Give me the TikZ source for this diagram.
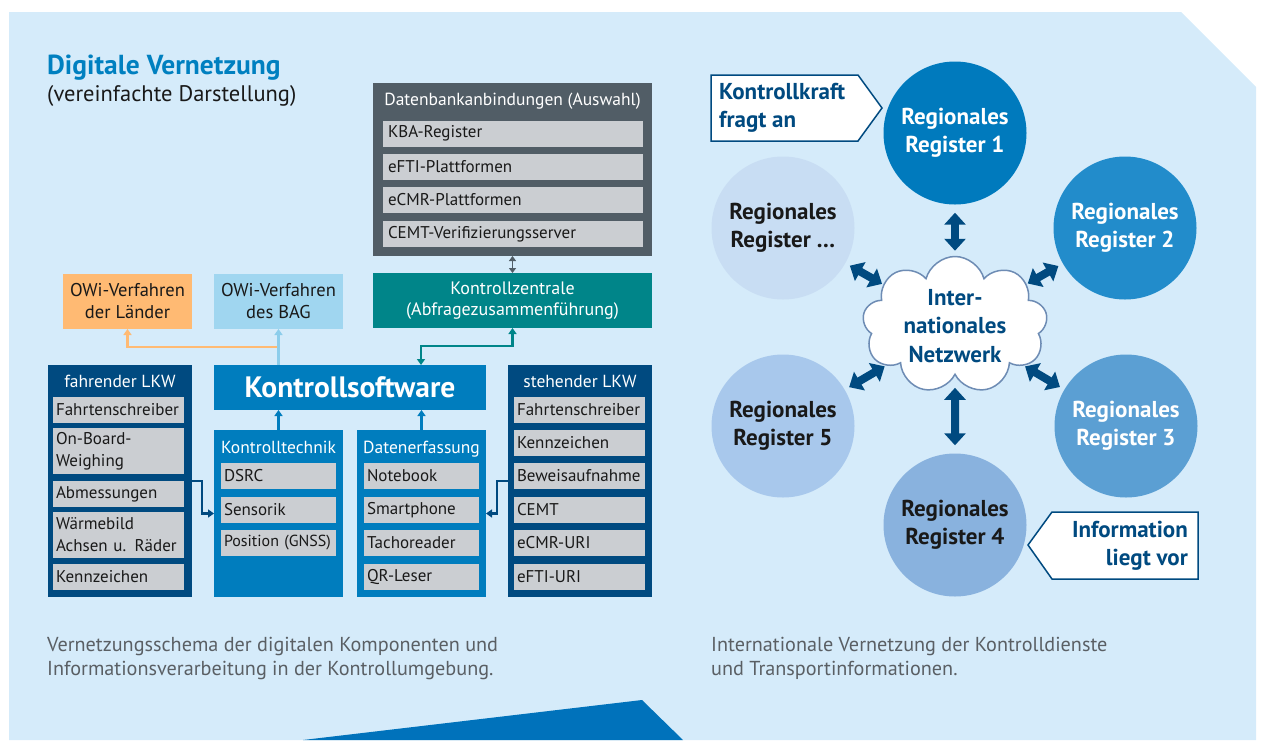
\documentclass[tikz,border=0pt]{standalone}
\usepackage{fontspec}
\setmainfont{PT Sans}
\usetikzlibrary{arrows.meta,shapes.symbols,calc}
\definecolor{bg}{RGB}{213,235,250}
\definecolor{navy}{RGB}{0,74,128}
\definecolor{kblue}{RGB}{0,125,190}
\definecolor{teal}{RGB}{0,133,137}
\definecolor{dbgray}{RGB}{81,93,102}
\definecolor{itemgray}{RGB}{203,206,210}
\definecolor{owiorange}{RGB}{255,186,115}
\definecolor{owiblue}{RGB}{160,214,240}
\definecolor{lineblue}{RGB}{140,205,235}
\definecolor{titleblue}{RGB}{0,128,192}
\definecolor{txt}{RGB}{25,25,25}
\definecolor{capgray}{RGB}{90,95,100}
\definecolor{tri}{RGB}{0,114,187}
\definecolor{rA}{RGB}{0,122,189}
\definecolor{rB}{RGB}{34,140,203}
\definecolor{rC}{RGB}{91,159,211}
\definecolor{rD}{RGB}{137,178,222}
\definecolor{rE}{RGB}{168,200,236}
\definecolor{rF}{RGB}{200,221,243}
\definecolor{cloudb}{RGB}{110,140,180}
\newcommand\itemfont{\fontsize{17}{22}\selectfont}
\newcommand\regfont{\fontsize{23}{28.5}\selectfont\bfseries}
\begin{document}
\begin{tikzpicture}[x=1pt,y={(0,-1pt)},
  box/.style={inner sep=0pt, outer sep=0pt},
  item/.style={fill=itemgray, inner xsep=3pt, inner ysep=0pt, outer sep=0pt, minimum height=26pt, align=left, font=\itemfont, text=txt},
  wideitem/.style={minimum width=131pt, text width=125pt},
  kitem/.style={minimum width=115pt, text width=109pt},
  ditem/.style={minimum width=260pt, text width=250pt, inner xsep=5pt},
  btitle/.style={text=white, font=\fontsize{17.5}{22}\selectfont, inner sep=0pt},
  conn/.style={line width=2.2pt, -{Triangle[width=8pt,length=6pt]}},
  block/.style={navy, line width=8pt, {Triangle[width=21pt,length=12pt]}-{Triangle[width=21pt,length=12pt]}},
  reg/.style={circle, minimum size=143pt, inner sep=0pt, align=center, font=\regfont},
  captxt/.style={text=capgray, font=\fontsize{20.2}{24}\selectfont, inner sep=0pt, anchor=base west}
]
\useasboundingbox (0,0) rectangle (1262,740);
\fill[bg] (9,12) -- (1181,12) -- (1256,87) -- (1256,740) -- (9,740) -- cycle;
\fill[tri] (303,740) -- (642,700) -- (683,740) -- cycle;

% title
\node[anchor=base west, inner sep=0pt, text=titleblue, font=\fontsize{27.5}{30}\selectfont\bfseries] (title) at (47,74) {Digitale Vernetzung};
\node[anchor=base west, inner sep=0pt, text=txt, font=\fontsize{22.5}{26}\selectfont] (subtitle) at (47,101) {(vereinfachte Darstellung)};

% database box
\node[box, fill=dbgray, minimum width=279pt, minimum height=173pt] (db) at (512.5,169.5) {};
\node[btitle, anchor=base] (dbt) at (512.5,105) {Datenbankanbindungen (Auswahl)};
\node[item, ditem] (d1) at (513,133.7) {KBA-Register};
\node[item, ditem] (d2) at (513,167) {eFTI-Plattformen};
\node[item, ditem] (d3) at (513,200) {eCMR-Plattformen};
\node[item, ditem] (d4) at (513,234) {CEMT-Verifizierungsserver};

% Kontrollzentrale
\node[box, fill=teal, minimum width=279pt, minimum height=55pt, text=white, align=center, font=\fontsize{18}{21}\selectfont] (kz) at (512.5,300.5) {Kontrollzentrale\\(Abfragezusammenführung)};

% OWi
\node[box, fill=owiorange, minimum width=129pt, minimum height=55pt, text=txt, align=center, font=\fontsize{18.5}{22}\selectfont] (owil) at (127.5,301.5) {OWi-Verfahren\\der Länder};
\node[box, fill=owiblue, minimum width=129pt, minimum height=55pt, text=txt, align=center, font=\fontsize{18.5}{22}\selectfont] (owib) at (278.5,301.5) {OWi-Verfahren\\des BAG};

% Kontrollsoftware
\node[box, fill=kblue, minimum width=272pt, minimum height=45pt, text=white, font=\fontsize{29.5}{32}\selectfont\bfseries] (ks) at (350,387.5) {Kontrollsoftware};

% fahrender LKW
\node[box, fill=navy, minimum width=144pt, minimum height=232pt] (flkw) at (120,481) {};
\node[btitle, anchor=base] (tflkw) at (120,387) {fahrender LKW};
\node[item, wideitem] (f1) at (118.5,410) {Fahrtenschreiber};
\node[item, wideitem, minimum height=46pt] (f2) at (118.5,451) {On-Board-\\Weighing};
\node[item, wideitem] (f3) at (118.5,494) {Abmessungen};
\node[item, wideitem, minimum height=46pt] (f4) at (118.5,535) {Wärmebild\\Achsen u. Räder};
\node[item, wideitem] (f5) at (118.5,576.5) {Kennzeichen};

% Kontrolltechnik
\node[box, fill=kblue, minimum width=129pt, minimum height=167pt] (kt) at (278.5,513.5) {};
\node[btitle, anchor=base] (tkt) at (278.5,453) {Kontrolltechnik};
\node[item, kitem] (k1) at (278.5,476) {DSRC};
\node[item, kitem] (k2) at (278.5,510) {Sensorik};
\node[item, kitem, font=\fontsize{16}{22}\selectfont] (k3) at (278.5,543) {Position (GNSS)};

% Datenerfassung
\node[box, fill=kblue, minimum width=129pt, minimum height=167pt] (de) at (421.5,513.5) {};
\node[btitle, anchor=base] (tde) at (421.5,453) {Datenerfassung};
\node[item, kitem] (e1) at (421.5,476) {Notebook};
\node[item, kitem] (e2) at (421.5,510) {Smartphone};
\node[item, kitem] (e3) at (421.5,543) {Tachoreader};
\node[item, kitem] (e4) at (421.5,577) {QR-Leser};

% stehender LKW
\node[box, fill=navy, minimum width=144pt, minimum height=232pt] (slkw) at (580,481) {};
\node[btitle, anchor=base] (tslkw) at (580,387) {stehender LKW};
\node[item, wideitem] (s1) at (579.5,410) {Fahrtenschreiber};
\node[item, wideitem] (s2) at (579.5,443) {Kennzeichen};
\node[item, wideitem] (s3) at (579.5,476) {Beweisaufnahme};
\node[item, wideitem] (s4) at (579.5,510) {CEMT};
\node[item, wideitem] (s5) at (579.5,543) {eCMR-URI};
\node[item, wideitem] (s6) at (579.5,576.5) {eFTI-URI};

% connectors left
\draw[dbgray, line width=1.8pt, {Triangle[width=7pt,length=5pt]}-{Triangle[width=7pt,length=5pt]}] (db.south) -- (kz.north);
\coordinate (kst) at (421,365);
\draw[teal, line width=2.2pt, {Triangle[width=8pt,length=6pt]}-{Triangle[width=8pt,length=6pt]}] (kz.south) -- ++(0,18) -| (kst);
\draw[owiorange, conn] ($(owib.south)+(0,18)$) -| (owil.south);
\draw[lineblue, conn] (ks.north -| owib.south) -- (owib.south);
\draw[kblue, conn] (kt.north) -- (kt.north |- ks.south);
\draw[kblue, conn] (de.north) -- (de.north |- ks.south);
\draw[navy, conn] (flkw.east) -- ++(10,0) |- (kt.west);
\draw[navy, conn] (slkw.west) -- ++(-11,0) |- (de.east);

% captions
\node[captxt] (c1a) at (47,651) {Vernetzungsschema der digitalen Komponenten und};
\node[captxt] (c1b) at (47,675) {Informationsverarbeitung in der Kontrollumgebung.};
\node[captxt] (c2a) at (711,651) {Internationale Vernetzung der Kontrolldienste};
\node[captxt] (c2b) at (711,675) {und Transportinformationen.};

% right network
\node[reg, fill=rA, text=white] (r1) at (955,133) {Regionales\\Register 1};
\node[reg, fill=rB, text=white] (r2) at (1125,228) {Regionales\\Register 2};
\node[reg, fill=rC, text=white] (r3) at (1126,426) {Regionales\\Register 3};
\node[reg, fill=rD, text=txt] (r4) at (955,525) {Regionales\\Register 4};
\node[reg, fill=rE, text=txt] (r5) at (783,426) {Regionales\\Register 5};
\node[reg, fill=rF, text=txt] (rx) at (783,228) {Regionales\\Register …};

\node[cloud, cloud puffs=9, draw=cloudb, line width=1.5pt, fill=white, minimum width=185pt, minimum height=137pt, inner sep=0pt] (net) at (955,325) {};
\node[align=center, font=\regfont, text=navy, inner sep=0pt] (nett) at (955,326) {Inter-\\nationales\\Netzwerk};

\draw[block, shorten <=8pt, shorten >=5pt] (r1) -- (net);
\draw[block, shorten <=12pt, shorten >=8pt] (net) -- (r4);
\draw[block, shorten <=5pt, shorten >=1pt] (rx) -- (net);
\draw[block, shorten <=5pt, shorten >=1pt] (r2) -- (net);
\draw[block, shorten <=5pt, shorten >=1pt] (r5) -- (net);
\draw[block, shorten <=5pt, shorten >=1pt] (r3) -- (net);

% callouts
\draw[navy, fill=white, line width=1.5pt] (711,75) -- (858,75) -- (882,108) -- (858,141) -- (711,141) -- cycle;
\node[anchor=west, align=left, font=\regfont, text=navy, inner sep=0pt] (kk) at (719,108) {Kontrollkraft\\fragt an};
\draw[navy, fill=white, line width=1.5pt] (1198,512) -- (1052,512) -- (1028,545) -- (1052,579) -- (1198,579) -- cycle;
\node[anchor=east, align=right, font=\regfont, text=navy, inner sep=0pt] (inf) at (1188,546) {Information\\liegt vor};
\end{tikzpicture}
\end{document}
